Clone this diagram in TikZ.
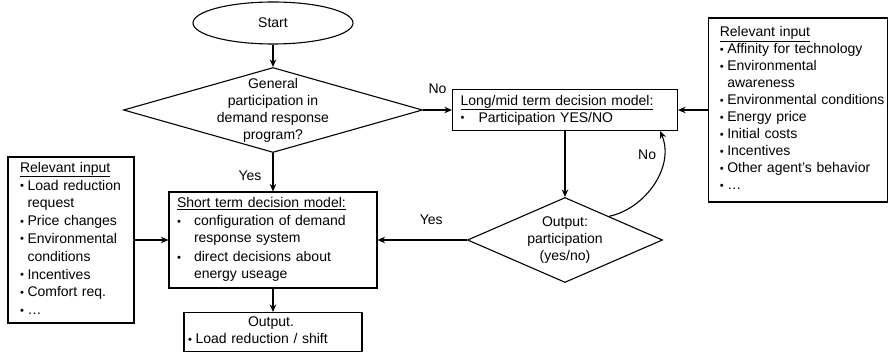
\documentclass[tikz,border=0pt]{standalone}
\usepackage{fontspec}
\usepackage{graphicx}
\setmainfont{Liberation Sans}
\usetikzlibrary{shapes.geometric,arrows.meta,calc}
\newcommand\bulraw{\raisebox{0.6pt}{\scalebox{0.8}{•}}}
\newcommand\bul{\makebox[7.5pt][l]{\bulraw}}
\newcommand\cnt{\hspace*{7.5pt}}
\begin{document}
\begin{tikzpicture}[x=1pt,y=-1pt,
  every node/.style={font=\fontsize{14}{17}\selectfont},
  box/.style={draw, rectangle, inner ysep=0pt, line width=1.1pt, align=left},
  arr/.style={-{Stealth[length=7.5pt,width=6.5pt]}, line width=1.1pt},
  lbl/.style={font=\fontsize{14}{17}\selectfont, inner sep=0pt}]
\useasboundingbox (0,0) rectangle (889,353);

\node[ellipse, draw, line width=1.1pt, minimum width=160, minimum height=42, inner sep=0pt] (start) at (273,23) {Start};

\node[diamond, draw, line width=1.1pt, minimum width=299, minimum height=85, inner sep=0pt,
  label={[lbl, align=center]center:General\\participation in\\demand response\\program?}] (d1) at (273,110) {};

\node[box, minimum width=225, minimum height=41, inner xsep=8pt, text width=209pt] (lm) at (565,110)
  {\underline{Long/mid term decision model:}\\\makebox[18pt][l]{\bulraw}Participation YES/NO};

\node[box, minimum width=179, minimum height=184, inner xsep=11pt, text width=157pt] (ri) at (798.3,110)
  {\begin{tabular}{@{}l@{}}
  \underline{Relevant input}\\
  \bul Affinity for technology\\
  \bul Environmental\\
  \cnt awareness\\
  \bul Environmental conditions\\
  \bul Energy price\\
  \bul Initial costs\\
  \bul Incentives\\
  \bul Other agent's behavior\\
  \bul …
  \end{tabular}};

\node[diamond, draw, line width=1.1pt, minimum width=195, minimum height=85, inner sep=0pt,
  label={[lbl, align=center]center:Output:\\participation\\(yes/no)}] (d2) at (565,240) {};

\node[box, minimum width=208, minimum height=96, inner xsep=8pt, text width=192pt] (st) at (273,240)
  {\begin{tabular}{@{}l@{}}
  \underline{Short term decision model:}\\[1pt]
  \makebox[17pt][l]{\bulraw}configuration of demand\\
  \hspace*{17pt}response system\\[2pt]
  \makebox[17pt][l]{\bulraw}direct decisions about\\
  \hspace*{17pt}energy useage
  \end{tabular}};

\node[box, minimum width=126, minimum height=166, inner xsep=12pt, text width=102pt,
  font=\fontsize{14}{17.8}\selectfont] (li) at (71,240)
  {\begin{tabular}{@{}l@{}}
  \underline{Relevant input}\\
  \bul Load reduction\\
  \cnt request\\
  \bul Price changes\\
  \bul Environmental\\
  \cnt conditions\\
  \bul Incentives\\
  \bul Comfort req.\\
  \bul …
  \end{tabular}};

\node[box, minimum width=178, minimum height=39, inner xsep=4pt, text width=170pt] (ou) at (273,332)
  {\begin{tabular}{@{}l@{}}
  \hspace*{60pt}Output.\\
  \bul Load reduction / shift
  \end{tabular}};

\draw[arr] (start.south) -- (d1.north);
\draw[arr] (d1.east) -- node[lbl, above=16pt] {No} (lm.west);
\draw[arr] (ri.west) -- (lm.east);
\draw[arr] (lm.south) -- (d2.north);
\draw[arr] (d2.west) -- node[lbl, pos=0.4, above=14.5pt] {Yes} (st.east);
\draw[arr] (d1.south) -- node[lbl, pos=0.6, left=11pt] {Yes} (st.north);
\draw[arr] (li.east) -- (st.west);
\draw[arr] (st.south) -- (ou.north);

\coordinate (cs) at ($(d2.north)!0.45!(d2.east)$);
\coordinate (ce) at ([xshift=-18pt]lm.south east);
\draw[arr] (cs) .. controls ($(cs)+(37,-8)$) and ($(ce)+(15,35)$) ..
  node[lbl, pos=0.75, left=7pt, yshift=3pt] {No} (ce);
\end{tikzpicture}
\end{document}
